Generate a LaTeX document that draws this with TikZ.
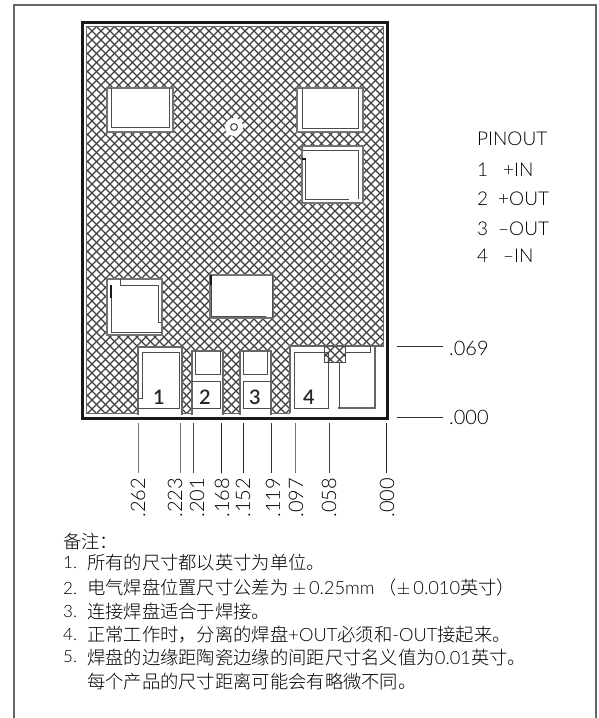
\documentclass[tikz,border=0pt]{standalone}
\usepackage{fontspec}
\setmainfont{Lato Light}[BoldFont=Lato Semibold]
\newfontfamily\latin{Lato Light}
\newfontfamily\cjk{Noto Sans CJK SC Light}
\tikzset{
  outline/.style={draw=black!60, line width=1.1pt},
  padedge/.style={draw=black!55, fill=white, line width=1.1pt},
  padline/.style={draw=black!70, line width=1pt},
  padmark/.style={draw=black!90, line width=1.6pt},
  dimline/.style={draw=black!80, line width=0.9pt},
  dimlabel/.style={font=\fontsize{20}{20}\selectfont, text=black, inner sep=0pt},
  pinlabel/.style={font=\fontsize{19}{19}\selectfont, text=black, inner sep=0pt, anchor=west},
  padnum/.style={font=\fontsize{20}{20}\selectfont\bfseries, text=black!85, inner sep=0pt},
  notetext/.style={font=\fontsize{18.3}{18}\selectfont\cjk, text=black, inner sep=0pt, anchor=west}
}
\newcommand{\hatchlines}{%
  \foreach \k in {0,...,95} {
    \draw [black!75, line width=1.1pt] (\k*9+6,0) -- (0,\k*9+6);
    \draw [black!75, line width=1.1pt] (\k*9+7-450,0) -- (\k*9+7,450);
  }
}
\begin{document}
\begin{tikzpicture}[x=1pt, y=-1pt]
  \useasboundingbox (0,0) rectangle (598,718);
  % page frame
  \draw [outline] (14,718) -- (14,5) -- (596,5) -- (596,718);
  % ceramic with its hatching
  \begin{scope}
    \clip (87,27) rectangle (383,413);
    \hatchlines
  \end{scope}
  \draw [draw=black!60, line width=0.8pt] (86.5,26.5) rectangle (383.5,413.5);
  % top pads
  \draw [padedge] (107,88) rectangle (173,132);
  \draw [padline] (111,88) -- (111,127) -- (169,127) -- (169,88);
  \draw [padedge] (297,88) rectangle (363,132);
  \draw [padline] (302,88) -- (302,128) -- (358,128) -- (358,88);
  \draw [padedge] (302,146) rectangle (363,203);
  \draw [padline] (302,150) -- (358,150) -- (358,199);
  \draw [padline] (349,199) -- (305,199) -- (305,159);
  \draw [padmark] (302,159) -- (306,159);
  % ring
  \fill [white] (234,127) circle (9);
  \draw [black!75, line width=1pt] (234,127) circle (3.4);
  % lower pads
  \draw [padedge] (107,279) rectangle (162,335);
  \draw [padline] (120,279) -- (120,285) -- (158,285) -- (158,322) -- (162,322);
  \draw [padline] (111,285) -- (111,332) -- (162,332);
  \draw [padmark] (111,285) -- (111,298);
  \draw [padedge] (210,275) rectangle (273,318);
  \draw [padline] (211,285) -- (211,316) -- (265,316) -- (265,318);
  \draw [padline] (272,275) -- (272,318);
  \draw [padmark] (211,275) -- (211,285);
  % pads along the edge
  \fill [white] (138,347) rectangle (182,415);
  \draw [outline] (138,415) -- (138,347) -- (182,347) -- (182,415);
  \draw [padline] (138,398) -- (142,398) -- (142,352) -- (179,352) -- (179,408) -- (138,408);
  \fill [white] (192,351) rectangle (223,415);
  \draw [outline] (192,415) -- (192,351) -- (223,351) -- (223,415);
  \draw [padline] (195,351) -- (195,374) -- (220,374) -- (220,351);
  \draw [padline] (192,381) -- (220,381) -- (220,408) -- (192,408);
  \fill [white] (240,351) rectangle (271,415);
  \draw [outline] (240,415) -- (240,351) -- (271,351) -- (271,415);
  \draw [padline] (243,351) -- (243,374) -- (267,374) -- (267,351);
  \draw [padline] (271,381) -- (243,381) -- (243,408) -- (271,408);
  \fill [white] (290,346) rectangle (385,415);
  \draw [outline] (290,413) -- (290,346) -- (383.5,346) -- (383.5,27);
  \draw [padline] (294,352) rectangle (328,408);
  \draw [padline] (345,352) -- (370,352) -- (370,346);
  \draw [outline] (375,346) -- (375,408) -- (339,408) -- (339,362);
  \begin{scope}
    \clip (324,346) rectangle (345,362);
    \hatchlines
  \end{scope}
  \fill [white] (328,362.6) rectangle (339,407);
  \draw [padline] (324,346) -- (324,362) -- (345,362) -- (345,346);
  \draw [padline] (328,362) -- (328,408);
  \draw [padline] (339,362) -- (339,408);
  % board edge
  \draw [line width=3pt, black!90] (82,22) rectangle (387,418);
  % pad numbers
  \node [padnum] (num1) at (159,397) {1};
  \node [padnum] (num2) at (205,397) {2};
  \node [padnum] (num3) at (255,397) {3};
  \node [padnum] (num4) at (309,397) {4};
  % pinout table
  \node [pinlabel] (pinout) at (477,139) {PINOUT};
  \node [pinlabel] (pin1) at (477,170) {1};
  \node [pinlabel] (pin2) at (477,199) {2};
  \node [pinlabel] (pin3) at (477,229) {3};
  \node [pinlabel] (pin4) at (477,256) {4};
  \node [pinlabel] (pinin) at (503,170) {+IN};
  \node [pinlabel] (pinout2) at (498,199) {+OUT};
  \node [pinlabel] (pinout3) at (498,229) {–OUT};
  \node [pinlabel] (pinin4) at (503,256) {–IN};
  % vertical dimensions
  \foreach \px/\val/\tx/\shade in {138/262/138/55, 180/223/175/55, 193/201/197/70, 221/168/222/85,
      243/152/243/85, 271/119/273/80, 295/097/296/55, 329/058/329/75, 386/000/387/85} {
    \coordinate (top\val) at (\px,423);
    \coordinate (end\val) at (\px,473);
    \draw [dimline, draw=black!\shade] (top\val) -- (end\val);
    \node [dimlabel, rotate=90, anchor=west] (dim\val) at (\tx,517.5) {.\val};
  }
  % horizontal dimensions
  \node [dimlabel, anchor=west] (dim069) at (449,348) {.069};
  \node [dimlabel, anchor=west] (dim000) at (449,417) {.000};
  \coordinate (from069) at (397,346);
  \coordinate (to069) at (443,346);
  \coordinate (from000) at (397,417);
  \coordinate (to000) at (443,417);
  \draw [dimline] (from069) -- (to069);
  \draw [dimline] (from000) -- (to000);
  % notes
  \node [notetext] (notehead) at (63,542) {备注：};
  \foreach \n/\ypos in {1/563, 2/588, 3/611, 4/635, 5/657} {
    \node [pinlabel, font=\fontsize{17}{18}\selectfont] (no\n) at (63,\ypos) {\n.};
  }
  \node [notetext] (note1) at (87,563) {所有的尺寸都以英寸为单位。};
  \node [notetext] (note2) at (87,588) {电气焊盘位置尺寸公差为 $\pm$\,{\latin 0.25mm} （$\pm$\,{\latin 0.010}英寸）};
  \node [notetext] (note3) at (87,611) {连接焊盘适合于焊接。};
  \node [notetext] (note4) at (87,635) {正常工作时，分离的焊盘{\latin +OUT}必须和{\latin -OUT}接起来。};
  \node [notetext] (note5) at (87,657) {焊盘的边缘距陶瓷边缘的间距尺寸名义值为{\latin 0.01}英寸。};
  \node [notetext] (note6) at (87,682) {每个产品的尺寸距离可能会有略微不同。};
\end{tikzpicture}
\end{document}
